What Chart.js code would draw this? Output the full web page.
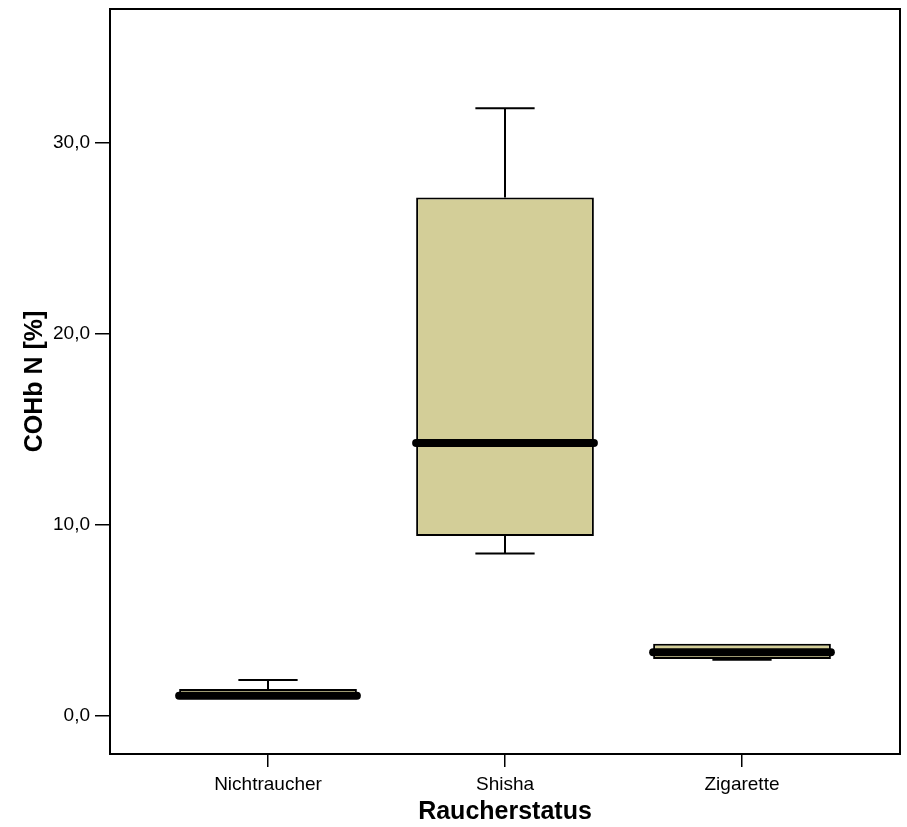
<!DOCTYPE html>
<html>
<head>
<meta charset="utf-8">
<script src="https://cdn.jsdelivr.net/npm/chart.js@4"></script>
<style>
  html, body { margin: 0; padding: 0; background: #fff; }
  #wrap { width: 907px; height: 827px; }
</style>
</head>
<body>
<div id="wrap"><canvas id="c" width="907" height="827"></canvas></div>
<script>
// ---- data ----
const categories = ['Nichtraucher', 'Shisha', 'Zigarette'];
const whiskerMin = [0.95, 8.49, 2.93];
const q1Values   = [1.0, 9.41, 2.97];
const medians    = [1.05, 14.28, 3.33];
const q3Values   = [1.4, 27.13, 3.77];
const whiskerMax = [1.88, 31.81, 3.77];
const yTickValues = [0, 10, 20, 30];
const yAxisTitle = 'COHb N [%]';
const xAxisTitle = 'Raucherstatus';

const boxFill = 'rgb(211,206,152)';
const FONT = '"Liberation Sans", Arial, Helvetica, sans-serif';

const boxData = categories.map((c, i) => ({ x: i, y: [q1Values[i], q3Values[i]] }));

const whiskerPlugin = {
  id: 'whiskers',
  afterDatasetsDraw(chart) {
    const { ctx, scales: { x, y } } = chart;
    const meta = chart.getDatasetMeta(0);
    ctx.save();
    ctx.strokeStyle = '#000';
    categories.forEach((c, i) => {
      const cx = x.getPixelForValue(i);
      const capHalf = (x.getPixelForValue(i + 0.125) - x.getPixelForValue(i - 0.125)) / 2;
      const yq1 = y.getPixelForValue(q1Values[i]);
      const yq3 = y.getPixelForValue(q3Values[i]);
      const yMin = y.getPixelForValue(whiskerMin[i]);
      const yMax = y.getPixelForValue(whiskerMax[i]);
      ctx.lineWidth = 2;
      ctx.lineCap = 'butt';
      ctx.beginPath();
      if (whiskerMax[i] > q3Values[i]) {
        ctx.moveTo(cx, yq3); ctx.lineTo(cx, yMax);
        ctx.moveTo(cx - capHalf, yMax); ctx.lineTo(cx + capHalf, yMax);
      }
      if (whiskerMin[i] < q1Values[i]) {
        ctx.moveTo(cx, yq1); ctx.lineTo(cx, yMin);
        ctx.moveTo(cx - capHalf, yMin); ctx.lineTo(cx + capHalf, yMin);
      }
      ctx.stroke();
      // median
      const bar = meta.data[i];
      const half = bar.width / 2;
      const ym = y.getPixelForValue(medians[i]);
      ctx.lineWidth = 8;
      ctx.lineCap = 'round';
      ctx.beginPath();
      ctx.moveTo(cx - half, ym); ctx.lineTo(cx + half, ym);
      ctx.stroke();
    });
    ctx.restore();
  }
};

const framePlugin = {
  id: 'frame',
  afterDraw(chart) {
    const { ctx, chartArea: a } = chart;
    ctx.save();
    ctx.strokeStyle = '#000';
    ctx.lineWidth = 2;
    ctx.strokeRect(a.left, a.top, a.right - a.left, a.bottom - a.top);
    ctx.restore();
  }
};

new Chart(document.getElementById('c'), {
  type: 'bar',
  data: {
    datasets: [{
      data: boxData,
      backgroundColor: boxFill,
      borderColor: '#000',
      borderWidth: 2,
      borderSkipped: false,
      categoryPercentage: 1.0,
      barPercentage: 0.75
    }]
  },
  options: {
    responsive: false,
    animation: false,
    devicePixelRatio: 1,
    layout: { padding: { left: 0, right: 7, top: 9, bottom: 0 } },
    plugins: { legend: { display: false }, tooltip: { enabled: false } },
    scales: {
      x: {
        type: 'linear',
        min: -2 / 3,
        max: 8 / 3,
        offset: false,
        afterBuildTicks(s) { s.ticks = categories.map((c, i) => ({ value: i })); },
        afterFit(s) { s.height = 73; s.paddingLeft = 0; s.paddingRight = 0; },
        ticks: {
          color: '#000',
          font: { family: FONT, size: 19 },
          padding: 6,
          maxRotation: 0,
          autoSkip: false,
          callback(v) { return categories[Math.round(v)] ?? ''; }
        },
        grid: { display: true, drawOnChartArea: false, drawTicks: true, tickLength: 13, color: '#000', lineWidth: 1.5, offset: false },
        border: { display: false },
        title: { display: true, text: xAxisTitle, color: '#000', font: { family: FONT, size: 25, weight: 'bold', lineHeight: 1.2 }, padding: { top: 0, bottom: 0 } }
      },
      y: {
        type: 'linear',
        min: -2,
        max: 37,
        afterBuildTicks(s) { s.ticks = yTickValues.map(v => ({ value: v })); },
        afterFit(s) { s.width = 110; s.paddingTop = 0; s.paddingBottom = 0; },
        ticks: {
          color: '#000',
          font: { family: FONT, size: 19 },
          padding: 5,
          callback(v) { return v.toFixed(1).replace('.', ','); }
        },
        grid: { display: true, drawOnChartArea: false, drawTicks: true, tickLength: 15, color: '#000', lineWidth: 1.5 },
        border: { display: false },
        title: { display: true, text: yAxisTitle, color: '#000', font: { family: FONT, size: 25, weight: 'bold', lineHeight: 1.2 }, padding: { top: 20, bottom: 0 } }
      }
    }
  },
  plugins: [whiskerPlugin, framePlugin]
});
</script>
</body>
</html>
